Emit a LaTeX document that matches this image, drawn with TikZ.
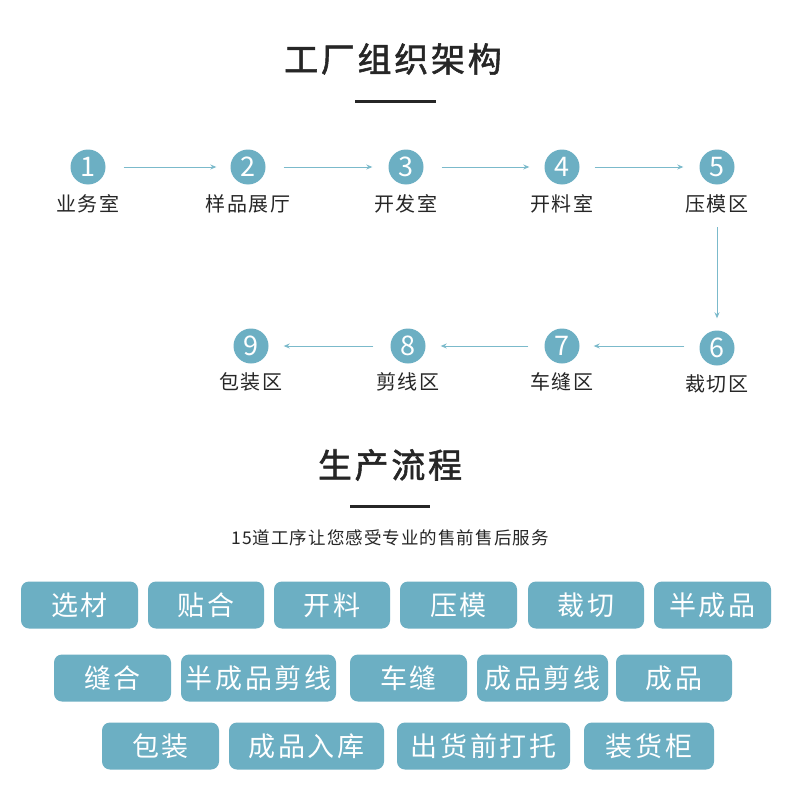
\documentclass[tikz,border=0pt]{standalone}
\usepackage{fontspec}
\setmainfont{Noto Sans CJK SC}
\newfontfamily\cjkbox[LetterSpace=10]{Noto Sans CJK SC}
\newfontfamily\cjklab[LetterSpace=8]{Noto Sans CJK SC}
\newfontfamily\cjksub[LetterSpace=6]{Noto Sans CJK SC}
\newfontfamily\cjktitle[LetterSpace=8,FakeBold=1.6]{Noto Sans CJK SC}
\usetikzlibrary{arrows.meta}
\definecolor{teal}{HTML}{6CAFC3}
\definecolor{arr}{HTML}{7BBACB}
\begin{document}
\begin{tikzpicture}[x=1pt,y=-1pt,
  num/.style={circle,fill=teal,minimum size=35pt,inner sep=0pt,text=white,font=\fontsize{27}{27}\selectfont},
  lab/.style={font=\cjklab\fontsize{20}{20}\selectfont,text=black!85,inner sep=0pt},
  conn/.style={draw=arr,line width=0.9pt,-{Stealth[length=6pt,width=5pt]}},
  pbox/.style={fill=teal,rounded corners=8pt,text=white,minimum height=47pt,inner sep=0pt,font=\cjkbox\fontsize{27}{27}\selectfont},
  title/.style={font=\cjktitle\fontsize{34}{34}\selectfont,text=black!85,inner sep=0pt},
  bar/.style={line width=3pt,draw=black!85}]
\useasboundingbox (0,0) rectangle (790,800);
\fill[white] (0,0) rectangle (790,800);
% title 1
\node[title] (t1) at (393,59) {工厂组织架构};
\draw[bar] (355,101) -- (436,101);
% row 1
\node[num] (c1) at (88,167) {1};
\node[num] (c2) at (248,167) {2};
\node[num] (c3) at (406,167) {3};
\node[num] (c4) at (562,167) {4};
\node[num] (c5) at (717,167) {5};
\node[lab] (l1) at (88,204) {业务室};
\node[lab] (l2) at (248,204) {样品展厅};
\node[lab] (l3) at (406,204) {开发室};
\node[lab] (l4) at (562,204) {开料室};
\node[lab] (l5) at (717,204) {压模区};
% row 2
\node[num] (c6) at (717,348) {6};
\node[num] (c7) at (562,346) {7};
\node[num] (c8) at (408,346) {8};
\node[num] (c9) at (251,346) {9};
\node[lab] (l6) at (717,384) {裁切区};
\node[lab] (l7) at (562,382) {车缝区};
\node[lab] (l8) at (408,382) {剪线区};
\node[lab] (l9) at (251,382) {包装区};
% arrows
\draw[conn] ([xshift=18pt]c1.east) -- ([xshift=-14pt]c2.west);
\draw[conn] ([xshift=18pt]c2.east) -- ([xshift=-16pt]c3.west);
\draw[conn] ([xshift=18pt]c3.east) -- ([xshift=-15pt]c4.west);
\draw[conn] ([xshift=15pt]c4.east) -- ([xshift=-16pt]c5.west);
\draw[conn] ([yshift=-14pt]l5.south) -- ([yshift=12pt]c6.north);
\draw[conn] ([xshift=-15pt]c6.west |- c7.east) -- ([xshift=14pt]c7.east);
\draw[conn] ([xshift=-16pt]c7.west) -- ([xshift=15pt]c8.east);
\draw[conn] ([xshift=-17pt]c8.west) -- ([xshift=15pt]c9.east);
% title 2
\node[title] (t2) at (390,465) {生产流程};
\draw[bar] (350,506) -- (430,506);
\node[font=\cjksub\fontsize{17.5}{17.5}\selectfont,text=black!85,inner sep=0pt] (sub) at (390,538) {15道工序让您感受专业的售前售后服务};
% boxes row 1
\node[pbox,minimum width=117pt] (b1) at (79.5,605) {选材};
\node[pbox,minimum width=116pt] (b2) at (206,605) {贴合};
\node[pbox,minimum width=116pt] (b3) at (332,605) {开料};
\node[pbox,minimum width=117pt] (b4) at (458.5,605) {压模};
\node[pbox,minimum width=116pt] (b5) at (586,605) {裁切};
\node[pbox,minimum width=117pt] (b6) at (712.5,605) {半成品};
% boxes row 2
\node[pbox,minimum width=117pt] (b7) at (112.5,678) {缝合};
\node[pbox,minimum width=155pt] (b8) at (258.5,678) {半成品剪线};
\node[pbox,minimum width=117pt] (b9) at (408.5,678) {车缝};
\node[pbox,minimum width=131pt] (b10) at (542.5,678) {成品剪线};
\node[pbox,minimum width=116pt] (b11) at (674,678) {成品};
% boxes row 3
\node[pbox,minimum width=117pt] (b12) at (160.5,746) {包装};
\node[pbox,minimum width=155pt] (b13) at (306.5,746) {成品入库};
\node[pbox,minimum width=173pt] (b14) at (483.5,746) {出货前打托};
\node[pbox,minimum width=130pt] (b15) at (649,746) {装货柜};
\end{tikzpicture}
\end{document}
